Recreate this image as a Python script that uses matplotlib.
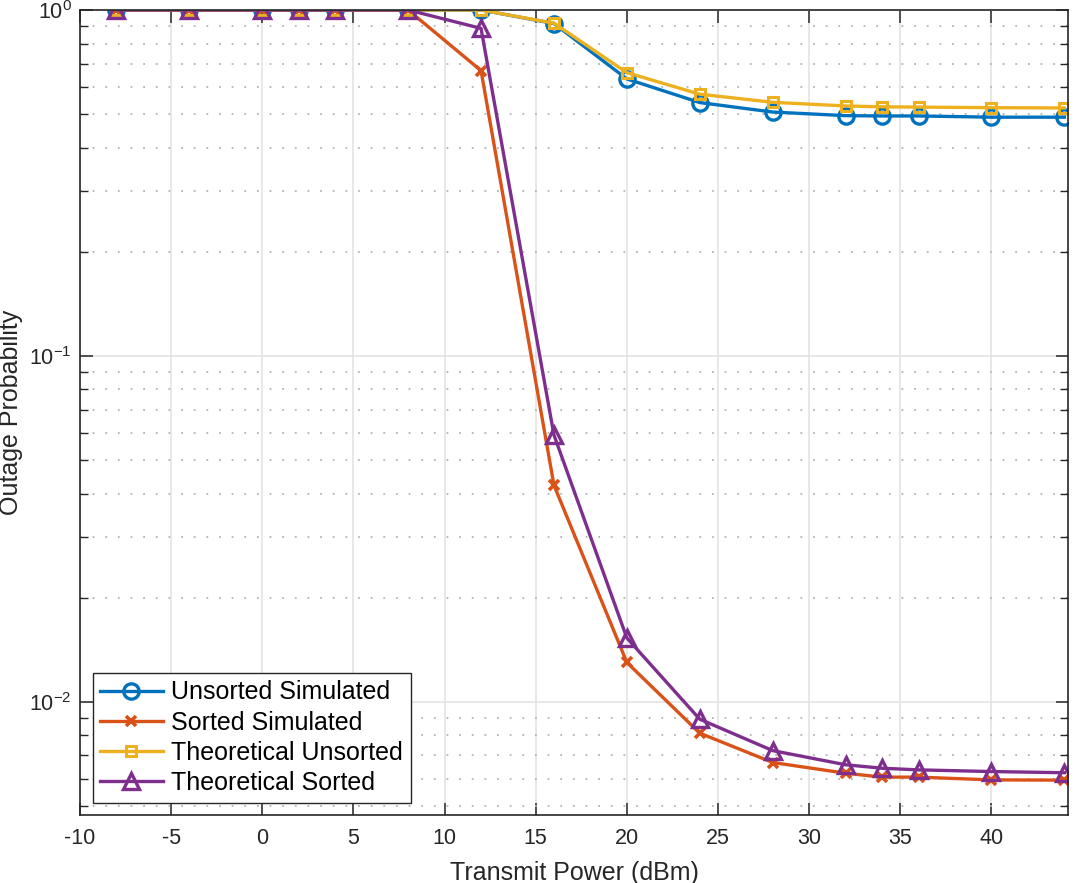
import matplotlib
matplotlib.use('Agg')
import matplotlib.pyplot as plt
from matplotlib.ticker import LogLocator, MultipleLocator, NullFormatter
import numpy as np

plt.rcParams['font.family']=['Liberation Sans','DejaVu Sans']
plt.rcParams['mathtext.default']='regular'
plt.rcParams['axes.unicode_minus']=False

# transmit power (dBm)
P=[-8,-4,0,2,4,8,12,16,20,24,28,32,34,36,40,44]
unsorted_sim=[1,1,1,1,1,1,1,0.914,0.632,0.540,0.507,0.495,0.494,0.494,0.490,0.490]
sorted_sim=[1,1,1,1,1,1,0.668,0.0423,0.0130,0.00812,0.00668,0.00622,0.00606,0.00606,0.00595,0.00594]
theo_unsorted=[1,1,1,1,1,1,1,0.916,0.659,0.571,0.541,0.528,0.525,0.524,0.522,0.521]
theo_sorted=[1,1,1,1,1,1,0.885,0.0591,0.0153,0.00891,0.00723,0.00658,0.00643,0.00636,0.00629,0.00624]

labels=['Unsorted Simulated','Sorted Simulated','Theoretical Unsorted','Theoretical Sorted']
cols=['#0072BD','#D95319','#EDB120','#7E2F8E']
dark='#262626'

fig=plt.figure(1,figsize=(10.79,8.83),dpi=100)
ax=fig.add_axes([80/1079,1-815/883,988/1079,805/883])

lw=2.4
ax.semilogy(P,unsorted_sim,'-o',color=cols[0],lw=lw,ms=11,mew=2.4,mfc='none',label=labels[0])
ax.semilogy(P,sorted_sim,'-x',color=cols[1],lw=lw,ms=7,mew=2.6,label=labels[1])
ax.semilogy(P,theo_unsorted,'-s',color=cols[2],lw=lw,ms=7.5,mew=2.2,mfc='none',label=labels[2])
ax.semilogy(P,theo_sorted,'-^',color=cols[3],lw=lw,ms=12,mew=2.4,mfc='none',label=labels[3])

ax.set_xlim(-10,44.2)
ax.set_ylim(0.00471,1)
ax.xaxis.set_major_locator(MultipleLocator(5))
ax.yaxis.set_major_locator(LogLocator(base=10,numticks=10))
ax.yaxis.set_minor_locator(LogLocator(base=10,subs=np.arange(2,10),numticks=20))
ax.yaxis.set_minor_formatter(NullFormatter())

ax.grid(True,which='major',color='#e2e2e2',lw=1.1,ls='-')
ax.grid(True,which='minor',axis='y',color='#b4b4b4',lw=1.3,ls=(0,(1,6)))
ax.set_axisbelow(True)

ax.tick_params(which='both',direction='in',top=True,right=True,colors=dark,labelsize=15.5)
ax.tick_params(which='major',length=9,width=1.1)
ax.tick_params(which='minor',length=6,width=1.0)
ax.tick_params(axis='x',pad=9)
ax.tick_params(axis='y',pad=6)
for s in ax.spines.values():
    s.set_color(dark)
    s.set_linewidth(1.2)

ax.set_xlabel('Transmit Power (dBm)',fontsize=18,color=dark,labelpad=9)
ax.set_ylabel('Outage Probability',fontsize=18,color=dark)
ax.yaxis.set_label_coords(-0.058,0.5)

leg=ax.legend(loc='lower left',fontsize=18,fancybox=False,framealpha=1,edgecolor=dark,
              handlelength=2.5,borderaxespad=0.5,labelspacing=0.25,handletextpad=0.35,borderpad=0.3)
leg.get_frame().set_linewidth(1.0)

plt.savefig('out.png',dpi=100)
